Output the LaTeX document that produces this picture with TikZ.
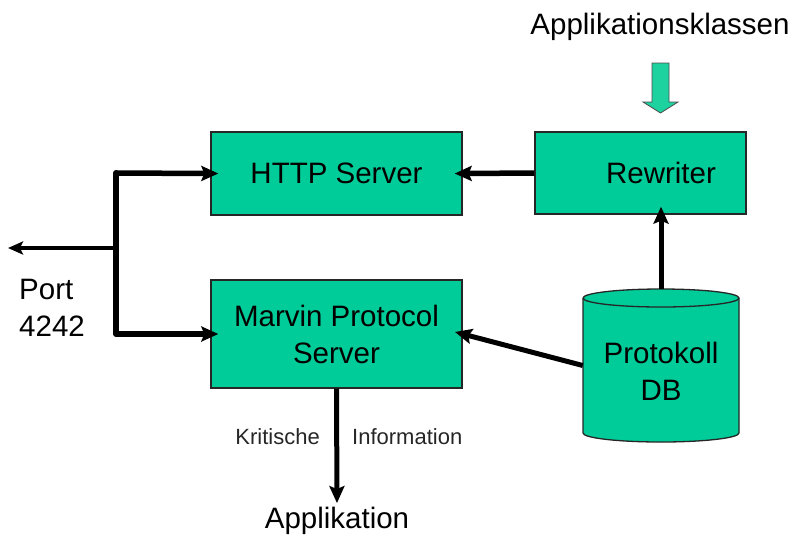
\documentclass[tikz,border=0pt]{standalone}
\usepackage{fontspec}
\setmainfont{Liberation Sans}
\usetikzlibrary{arrows.meta}
\definecolor{boxgreen}{RGB}{0,204,153}
\definecolor{arrowgreen}{RGB}{30,210,160}
\tikzset{
  x=1pt, y=1pt,
  box/.style={draw=black!85, line width=1.3pt, fill=boxgreen, inner sep=0pt, align=center},
  bigtext/.style={font=\fontsize{29.5}{37}\selectfont, inner sep=0pt},
  smalltext/.style={font=\fontsize{22}{24}\selectfont, text=black!85, inner sep=0pt},
  link/.style={line width=5.5pt, -{Stealth[length=17pt,width=15pt,inset=3pt]}, shorten >=-8pt},
  bus/.style={line width=6pt, line cap=round, line join=round},
}
\begin{document}
\begin{tikzpicture}
\useasboundingbox (0,0) rectangle (799,-539);

% main blocks
\node[box, bigtext, minimum width=251, minimum height=83] (http) at (336.5,-173.5) {HTTP Server};
\node[box, minimum width=211, minimum height=82] (rewriter) at (640.5,-173) {};
\node[bigtext] (rewritertext) at (661,-173) {Rewriter};
\node[box, bigtext, minimum width=251, minimum height=108, font=\fontsize{29.5}{37}\selectfont] (marvin) at (336.5,-334) {Marvin Protocol\\Server};

% database cylinder
\node[minimum width=156, minimum height=153, inner sep=0pt] (db) at (661,-365.5) {};
\fill[boxgreen] (583,-298) -- (583,-433) arc[start angle=180, end angle=360, x radius=78, y radius=9]
  -- (739,-298) arc[start angle=0, end angle=180, x radius=78, y radius=9] -- cycle;
\draw[black!85, line width=1.3pt] (583,-298) -- (583,-433) arc[start angle=180, end angle=360, x radius=78, y radius=9]
  -- (739,-298) arc[start angle=0, end angle=180, x radius=78, y radius=9];
\draw[black!85, line width=1.3pt] (583,-298) arc[start angle=180, end angle=360, x radius=78, y radius=9];
\node[bigtext, align=center, font=\fontsize{29.5}{37}\selectfont] (dbtext) at (661,-371) {Protokoll\\DB};

% class input
\node[bigtext] (classes) at (660,-27) {Applikationsklassen};
\draw[black!70, line width=0.8pt, fill=arrowgreen]
  (652,-63) -- (669,-63) -- (669,-102) -- (678,-102) -- (660.5,-113)
  -- (643,-102) -- (652,-102) -- cycle;

% port fan-out
\coordinate (jt) at (116,-173);
\coordinate (jm) at (116,-248);
\coordinate (jb) at (116,-334);
\coordinate (portend) at (8,-248);
\draw[bus] (jt) -- (jb);
\draw[link] (jt) -- (http.west);
\draw[link] (jb) -- (marvin.west);
\draw[line width=4pt, -{Stealth[length=15pt,width=13pt,inset=3pt]}] (jm) -- (portend);
\node[bigtext, align=left, anchor=west, font=\fontsize{29.5}{37}\selectfont] (port) at (19,-308) {Port\\4242};

% internal flows
\draw[link] (rewriter.west) -- (http.east);
\draw[link, line width=5pt] (db.north) -- (db.north |- rewriter.south);
\draw[link, line width=5pt] (db.west) -- (marvin.east);

% output
\node[bigtext] (app) at (337,-521) {Applikation};
\draw[link, line width=5pt, shorten >=4pt] (marvin.south) -- (app.north);
\node[smalltext, anchor=east] (krit) at (320,-437) {Kritische};
\node[smalltext, anchor=west] (info) at (352,-437) {Information};
\end{tikzpicture}
\end{document}
